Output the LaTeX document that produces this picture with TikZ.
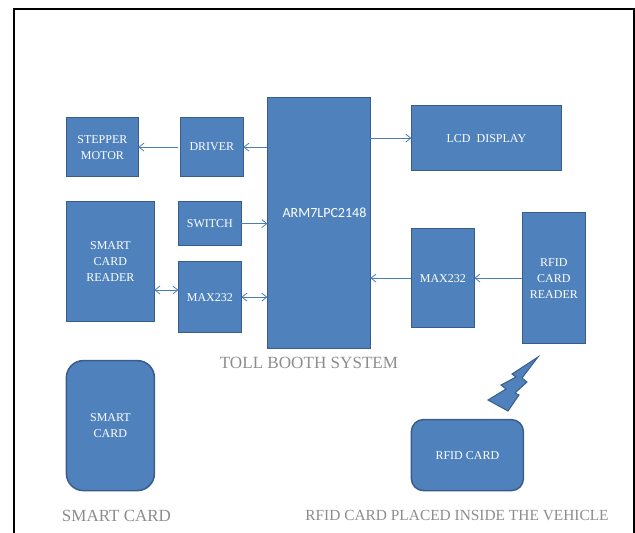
\documentclass[tikz,border=0pt]{standalone}
\usepackage{fontspec}
\setmainfont{Liberation Serif}
\newfontfamily\armfont{Carlito}
\usetikzlibrary{arrows.meta}
\definecolor{boxfill}{HTML}{4F81BD}
\definecolor{boxedge}{HTML}{385D8A}
\definecolor{linkcol}{HTML}{4A7EBB}
\definecolor{capcol}{HTML}{8C8C8C}
\tikzset{
	blockbox/.style={draw=boxedge,fill=boxfill,line width=1.5pt,text=white,align=center,font=\fontsize{12}{16}\selectfont,inner sep=0pt,outer sep=0pt,anchor=north west,xshift=.4pt,yshift=-.6pt},
	cardbox/.style={blockbox,rounded corners=#1},
	link/.style={draw=linkcol,line width=.8pt,-{Straight Barb[length=5pt,width=8pt]}},
	dlink/.style={draw=linkcol,line width=.8pt,{Straight Barb[length=5pt,width=8pt]}-{Straight Barb[length=5pt,width=8pt]}},
	caption/.style={text=capcol,font=\fontsize{#1}{20}\selectfont,inner sep=0pt}
}
\begin{document}
\begin{tikzpicture}[x=1pt,y=-1pt]
	\useasboundingbox (0,0) rectangle (635,533);
	\draw[line width=2.4pt] (14,533)--(14,9)--(634,9)--(634,533);
	% blocks
	\foreach \n/\x/\y/\w/\h/\t in {
		stepper/66/117/72/59/{STEPPER\\MOTOR},
		driver/180/117/63/59/DRIVER,
		lcd/411/105/150/65/{LCD\ \ DISPLAY},
		reader/66/201/88/120/{SMART\\CARD\\READER},
		switch/178/201/63/44/SWITCH,
		maxl/178/261/63/71/MAX232,
		maxr/411/228/63/99/MAX232,
		rfid/522/212/63/131/{RFID\\CARD\\READER}}
	\node[blockbox,minimum width=\w pt,minimum height=\h pt] (\n) at (\x,\y) {\t};
	\node[blockbox,minimum width=103pt,minimum height=251pt] (arm) at (267,97) {};
	\node[text=white,font=\armfont\fontsize{14}{16}\selectfont,inner sep=0pt] (armtext) at (324.5,212.5) {ARM7LPC2148};
	\node[cardbox=17pt,minimum width=88pt,minimum height=130pt] (smart) at (66,360) {SMART\\CARD};
	\node[cardbox=12pt,minimum width=112pt,minimum height=71pt] (card) at (411,419) {RFID CARD};
	% links
	\path
	(driver.west)+(-2,0) coordinate (dl)
	(arm.west|-driver) coordinate (ad)
	(arm.east|-lcd) coordinate (al)
	(arm.west|-switch) coordinate (as)
	(arm.west|-maxl) coordinate (am)
	(arm.east|-maxr) coordinate (ar)
	(reader.east|-0,290) coordinate (rd)
	(maxl.west|-0,290) coordinate (ml)
	(maxr.east|-0,278) coordinate (me)
	(rfid.west|-0,278) coordinate (rw)
	;
	\draw[link] (dl)--(stepper.east);
	\draw[link] (ad)--(driver.east);
	\draw[link] (al)--(lcd.west);
	\draw[link] (switch.east)--(as);
	\draw[dlink] (maxl.east)--(am);
	\draw[dlink] (rd)--(ml);
	\draw[link] (maxr.west)--(ar);
	\draw[link] (rw)--(me);
	% bolt
	\draw[fill=boxfill,draw=boxedge,line width=1pt,line join=miter]
	(538,357)--(512,374)--(516,377)--(501,385)--(506,389)--(488,400)--(508,411)--(519,395)--(515,393)--(527,382)--(522,378)--cycle;
	% captions
	\node[caption=17.1] (booth) at (309,363) {TOLL BOOTH SYSTEM};
	\node[caption=17] (smartcap) at (116.5,516) {SMART CARD};
	\node[caption=15.4] (rfidcap) at (457,516) {RFID CARD PLACED INSIDE THE VEHICLE};
\end{tikzpicture}
\end{document}
